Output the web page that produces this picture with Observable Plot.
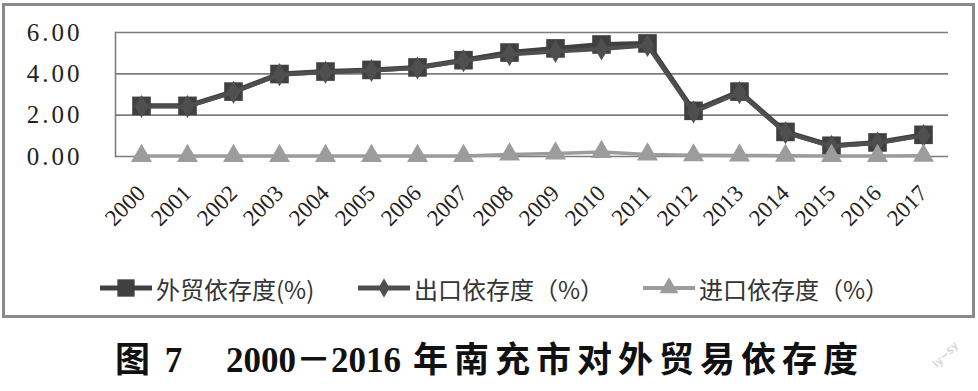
<!DOCTYPE html>
<html><head><meta charset="utf-8">
<script src="https://cdn.jsdelivr.net/npm/d3@7"></script>
<script src="https://cdn.jsdelivr.net/npm/@observablehq/plot@0.6"></script>
<style>
body{margin:0;background:#fff;}
#wrap{position:relative;width:978px;height:391px;overflow:hidden;background:#fff;font-family:"Noto Sans CJK SC",sans-serif;}
#box{position:absolute;left:2px;top:3px;width:967px;height:309px;border:3px solid #8a8a8a;}
#chart{position:absolute;left:0;top:0;}
#legend{position:absolute;left:0;top:250px;width:967px;height:59px;}
.item{position:absolute;top:0;height:64px;display:flex;align-items:center;}
.item svg{display:block;}
.item span{font-size:24px;color:#333;margin-left:4px;font-family:"Noto Sans CJK SC",sans-serif;}
#title{position:absolute;left:115px;top:331px;font-size:35px;font-weight:700;color:#111;white-space:pre;font-family:"Liberation Serif","Noto Sans CJK SC",serif;}
#title .cn{letter-spacing:6px;}
#title .cn2{letter-spacing:6px;margin-left:12px;}
#title .num{letter-spacing:0;}
#wm{position:absolute;left:930px;top:348px;font-size:11px;color:#c8c8c8;transform:rotate(-45deg);font-family:"DejaVu Sans",sans-serif;}
</style>
</head><body>
<div id="wrap">
  <div id="box">
    <div id="chart"></div>
    <div id="legend"></div>
  </div>
  <div id="title"><span class="cn">图</span> <span class="num">7</span>　 <span class="num">2000－2016</span><span class="cn2">年南充市对外贸易依存度</span></div>
  <div id="wm">ly~sy</div>
</div>
<script>
const years = ["2000","2001","2002","2003","2004","2005","2006","2007","2008","2009","2010","2011","2012","2013","2014","2015","2016","2017"];
const totalDep  = [2.45,2.45,3.14,3.99,4.11,4.19,4.31,4.66,5.03,5.23,5.42,5.47,2.21,3.14,1.19,0.52,0.68,1.05];
const exportDep = [2.42,2.42,3.11,3.96,4.08,4.16,4.28,4.63,4.93,5.08,5.20,5.37,2.15,3.09,1.15,0.49,0.65,1.01];
const importDep = [0.03,0.03,0.03,0.03,0.03,0.03,0.03,0.03,0.10,0.15,0.22,0.10,0.06,0.05,0.04,0.03,0.03,0.04];
const yTicks = [0, 2, 4, 6];
const seriesNames = ["外贸依存度(%)", "出口依存度（%）", "进口依存度（%）"];
const colors = ["#404040", "#4f4f4f", "#9c9c9c"];

const rows = (vals) => years.map((y, i) => ({year: y, v: vals[i]}));
const T = rows(totalDep), E = rows(exportDep), I = rows(importDep);

const plot = Plot.plot({
  width: 967, height: 250,
  marginLeft: 110, marginRight: 24, marginTop: 26, marginBottom: 100,
  style: {background: "transparent", color: "#222", overflow: "visible"},
  x: {type: "point", domain: years, padding: 0.5},
  y: {domain: [0, 6]},
  marks: [
    Plot.ruleY(yTicks, {stroke: "#7d7d7d", strokeWidth: 1.6}),
    Plot.frame({anchor: "left", stroke: "#7d7d7d", strokeWidth: 1.6}),
    Plot.axisY({ticks: yTicks, tickFormat: d => d.toFixed(2), tickSize: 0, tickPadding: 33, fontSize: 25, fontFamily: "Liberation Serif", label: null}),
    Plot.axisX({tickRotate: -45, tickSize: 0, tickPadding: 33, fontSize: 23, fontFamily: "Liberation Serif", label: null}),
    Plot.line(T, {x: "year", y: "v", stroke: colors[0], strokeWidth: 5}),
    Plot.dot(T, {x: "year", y: "v", symbol: "square", r: 10.5, fill: colors[0], stroke: "none"}),
    Plot.line(E, {x: "year", y: "v", stroke: colors[1], strokeWidth: 4}),
    Plot.dot(E, {x: "year", y: "v", symbol: "diamond", r: 7, fill: colors[1], stroke: "none"}),
    Plot.line(I, {x: "year", y: "v", stroke: colors[2], strokeWidth: 3.5}),
    Plot.dot(I, {x: "year", y: "v", symbol: "triangle", r: 7.8, fill: colors[2], stroke: "none"})
  ]
});
d3.select(plot).selectAll('g[aria-label="y-axis tick label"] text').style("letter-spacing", "3px");
document.getElementById("chart").appendChild(plot);

// legend
const legendX = [95, 353, 638];
const symbols = [d3.symbolSquare, d3.symbolDiamond, d3.symbolTriangle];
const symSizes = [300, 110, 150];
const lg = d3.select("#legend");
seriesNames.forEach((name, i) => {
  const it = lg.append("div").attr("class", "item").style("left", legendX[i] + "px");
  const s = it.append("svg").attr("width", 52).attr("height", 24);
  s.append("line").attr("x1", 0).attr("x2", 52).attr("y1", 12).attr("y2", 12)
    .attr("stroke", colors[i]).attr("stroke-width", i === 2 ? 4 : 5);
  s.append("path").attr("d", d3.symbol(symbols[i], symSizes[i])())
    .attr("transform", "translate(26,12)").attr("fill", colors[i]);
  it.append("span").text(name);
});
</script>
</body></html>
